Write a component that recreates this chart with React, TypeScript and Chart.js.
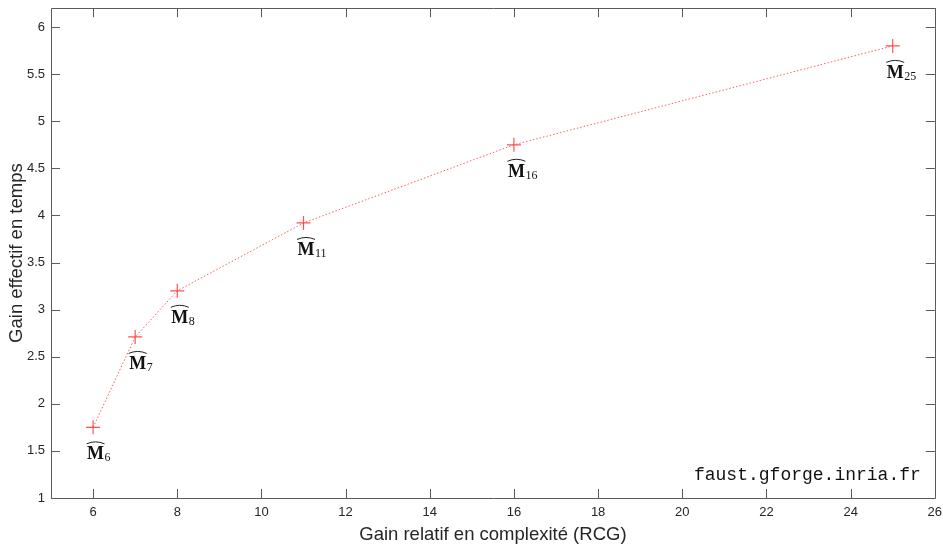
import React, { useEffect, useRef } from "react";
import { Chart, registerables } from "chart.js";

Chart.register(...registerables);

const complexityGain = [6, 7, 8, 11, 16, 25];
const timeGain = [1.75, 2.71, 3.2, 3.92, 4.75, 5.8];
const pointLabels = ["6", "7", "8", "11", "16", "25"];
const xTicks = [6, 8, 10, 12, 14, 16, 18, 20, 22, 24, 26];
const yTicks = [1, 1.5, 2, 2.5, 3, 3.5, 4, 4.5, 5, 5.5, 6];
const xTitle = "Gain relatif en complexité (RCG)";
const yTitle = "Gain effectif en temps";
const watermark = "faust.gforge.inria.fr";

const boxPlugin = {
  id: "boxPlugin",
  afterDraw(chart: any) {
    const { ctx, chartArea } = chart;
    const xs = chart.scales.x;
    const ys = chart.scales.y;
    const { left, right, top, bottom } = chartArea;
    const tl = 9;
    ctx.save();
    ctx.strokeStyle = "#5a5a5a";
    ctx.lineWidth = 1;
    ctx.beginPath();
    ctx.rect(Math.round(left) + 0.5, Math.round(top) + 0.5, Math.round(right - left), Math.round(bottom - top));
    ctx.stroke();
    ctx.beginPath();
    xTicks.forEach((v) => {
      const px = Math.round(xs.getPixelForValue(v)) + 0.5;
      ctx.moveTo(px, bottom);
      ctx.lineTo(px, bottom - tl);
      ctx.moveTo(px, top);
      ctx.lineTo(px, top + tl);
    });
    yTicks.forEach((v) => {
      const py = Math.round(ys.getPixelForValue(v)) + 0.5;
      ctx.moveTo(left, py);
      ctx.lineTo(left + tl, py);
      ctx.moveTo(right, py);
      ctx.lineTo(right - tl, py);
    });
    ctx.stroke();

    // point labels
    ctx.fillStyle = "#111";
    complexityGain.forEach((xv, i) => {
      const px = xs.getPixelForValue(xv);
      const py = ys.getPixelForValue(timeGain[i]);
      const mx = px - 6;
      const base = py + 32;
      ctx.font = 'bold 18px "Liberation Serif"';
      ctx.textAlign = "left";
      ctx.textBaseline = "alphabetic";
      ctx.fillText("M", mx, base);
      const mw = ctx.measureText("M").width;
      ctx.font = '12px "Liberation Serif"';
      ctx.fillText(pointLabels[i], mx + mw + 0.5, base + 2);
      // wide hat
      ctx.beginPath();
      ctx.strokeStyle = "#222";
      ctx.lineWidth = 1;
      const hy = base - 15.5;
      ctx.moveTo(mx - 0.5, hy);
      ctx.quadraticCurveTo(mx + mw / 2, hy - 4, mx + mw + 0.5, hy);
      ctx.stroke();
    });

    // watermark
    ctx.font = '18px "Liberation Mono"';
    ctx.fillStyle = "#111";
    ctx.textAlign = "right";
    ctx.textBaseline = "alphabetic";
    ctx.fillText(watermark, right - 14, bottom - 18);
    ctx.restore();
  },
};

export default function App() {
  const ref = useRef<HTMLCanvasElement | null>(null);
  useEffect(() => {
    document.body.style.margin = "0";
    const chart = new Chart(ref.current as HTMLCanvasElement, {
      type: "scatter",
      data: {
        datasets: [
          {
            data: complexityGain.map((x, i) => ({ x, y: timeGain[i] })),
            showLine: true,
            borderColor: "rgba(255,40,40,0.75)",
            borderWidth: 1,
            borderDash: [1.5, 2],
            pointStyle: "cross",
            pointRadius: 7,
            pointBorderWidth: 1.2,
            pointBorderColor: "rgba(255,50,50,0.85)",
            pointBackgroundColor: "rgba(255,50,50,0.85)",
          },
        ],
      },
      options: {
        animation: false,
        responsive: true,
        maintainAspectRatio: false,
        layout: { padding: { top: 8, right: 8, left: 0, bottom: 0 } },
        plugins: { legend: { display: false }, tooltip: { enabled: false } },
        scales: {
          x: {
            type: "linear",
            min: 5,
            max: 26,
            afterBuildTicks: (s: any) => {
              s.ticks = xTicks.map((v) => ({ value: v }));
            },
            afterFit: (s: any) => {
              s.height = 46;
              s.paddingLeft = 0;
              s.paddingRight = 0;
            },
            grid: { display: false, drawTicks: false },
            border: { display: false },
            ticks: {
              padding: 7,
              color: "#262626",
              font: { family: '"Liberation Sans", Arial', size: 13 },
              maxRotation: 0,
              callback: (v: any) => String(v),
            },
            title: {
              display: true,
              text: xTitle,
              color: "#262626",
              font: { family: '"Liberation Sans", Arial', size: 18.5 },
              padding: { top: 0, bottom: -2 },
            },
          },
          y: {
            type: "linear",
            min: 1,
            max: 6.2,
            afterBuildTicks: (s: any) => {
              s.ticks = yTicks.map((v) => ({ value: v }));
            },
            afterFit: (s: any) => {
              s.width = 51;
              s.paddingTop = 0;
              s.paddingBottom = 0;
            },
            grid: { display: false, drawTicks: false },
            border: { display: false },
            ticks: {
              padding: 6,
              color: "#262626",
              font: { family: '"Liberation Sans", Arial', size: 13 },
              callback: (v: any) => String(v),
            },
            title: {
              display: true,
              text: yTitle,
              color: "#262626",
              font: { family: '"Liberation Sans", Arial', size: 18.5 },
              padding: { top: 6, bottom: 0 },
            },
          },
        },
      },
      plugins: [boxPlugin],
    });
    return () => chart.destroy();
  }, []);
  return (
    <div style={{ width: 943, height: 544, position: "relative" }}>
      <canvas ref={ref} />
    </div>
  );
}
